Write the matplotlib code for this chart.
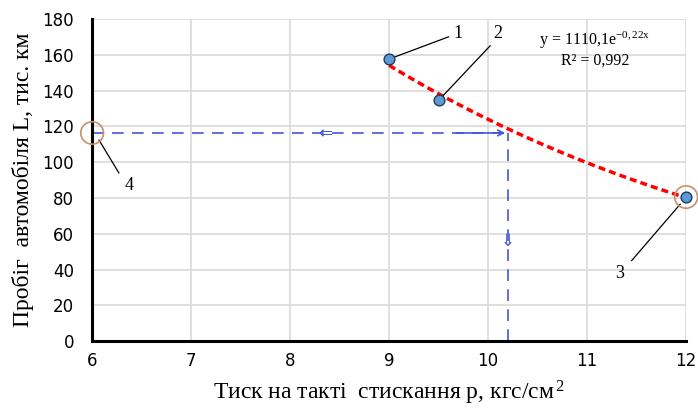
import numpy as np
import matplotlib.pyplot as plt
from matplotlib.patches import Ellipse

# вихідні дані
pressure = [9.0, 9.5, 12.0]
mileage = [157.6, 134.5, 80.5]
point_labels = ["1", "2", "3"]

target_L = 116.3
target_p = 10.2
x_ticks = [6, 7, 8, 9, 10, 11, 12]
y_ticks = [0, 20, 40, 60, 80, 100, 120, 140, 160, 180]

serif = "Liberation Serif"
plt.rcParams["mathtext.fontset"] = "custom"
plt.rcParams["mathtext.rm"] = serif
plt.rcParams["mathtext.it"] = serif
plt.rcParams["mathtext.default"] = "regular"

fig, ax = plt.subplots(figsize=(6.98, 4.12), dpi=100)
fig.subplots_adjust(left=0.132, right=0.983, top=0.954, bottom=0.172)

ax.set_xlim(6, 12)
ax.set_ylim(0, 180)
ax.set_xticks(x_ticks)
ax.set_yticks(y_ticks)
ax.grid(True, color="#d9d9d9", linewidth=1.2)
ax.set_axisbelow(True)
for s in ["top", "right"]:
    ax.spines[s].set_visible(False)
for s in ["left", "bottom"]:
    ax.spines[s].set_linewidth(2.2)
ax.tick_params(length=0, labelsize=12)
ax.tick_params(axis="y", pad=13)
ax.tick_params(axis="x", pad=8)

# експоненційна лінія тренду
k, b = np.polyfit(pressure, np.log(mileage), 1)
xs = np.linspace(min(pressure), max(pressure), 100)
ax.plot(xs, np.exp(b) * np.exp(k * xs), color="#ff0000", linestyle=(0, (2, 1.2)),
        linewidth=2.5, zorder=3)

ax.scatter(pressure, mileage, s=60, color="#5b9bd5", edgecolor="#1f3b5a",
           linewidth=1, zorder=4, clip_on=False)

# пунктирні лінії
ax.plot([6, target_p], [target_L, target_L], color="#4455dd", linestyle=(0, (7, 5)),
        linewidth=1.2, zorder=2)
ax.plot([target_p, target_p], [0, target_L], color="#4455dd", linestyle=(0, (7, 5)),
        linewidth=1.2, zorder=2)
ax.annotate("", xy=(target_p, target_L), xytext=(target_p - 0.55, target_L),
            arrowprops=dict(arrowstyle="->", color="#4455dd", lw=1.2))
ax.text(8.35, target_L, "⇐", color="#4455dd", fontsize=12, ha="center", va="center")
ax.text(target_p, 56, "⇓", color="#4455dd", fontsize=12, ha="center", va="center")

# кола навколо точок
for cx, cy in [(6, target_L), (12, mileage[2])]:
    ax.add_patch(Ellipse((cx, cy), 0.23, 12.5, fill=False, edgecolor="#c8906c",
                         linewidth=1.2, clip_on=False, zorder=5))

# виноски
callouts = [
    (point_labels[0], (pressure[0], mileage[0]), (9.6, 170), (9.7, 172)),
    (point_labels[1], (pressure[1], mileage[1]), (10.02, 165), (10.1, 172)),
    (point_labels[2], (12 - 0.06, mileage[2] - 4), (11.45, 45), (11.33, 38)),
    ("4", (6.07, target_L - 4), (6.27, 94), (6.37, 87)),
]
for lab, p0, p1, tpos in callouts:
    ax.plot([p0[0], p1[0]], [p0[1], p1[1]], color="black", linewidth=0.9,
            zorder=3, clip_on=False)
    ax.text(tpos[0], tpos[1], lab, fontsize=13, family=serif, ha="center", va="center")

ax.text(11.08, 168, "y = 1110,1e$^{-0,22x}$", fontsize=11.5, family=serif, ha="center",
        va="center")
ax.text(11.08, 156.5, "R² = 0,992", fontsize=11.5, family=serif, ha="center", va="center")

ax.set_xlabel("Тиск на такті  стискання p, кгс/см$^{\\,2}$", fontsize=17, family=serif,
              labelpad=6)
ax.set_ylabel("Пробіг  автомобіля L, тис. км", fontsize=17, family=serif, labelpad=6)

fig.savefig("out.png", dpi=100)
